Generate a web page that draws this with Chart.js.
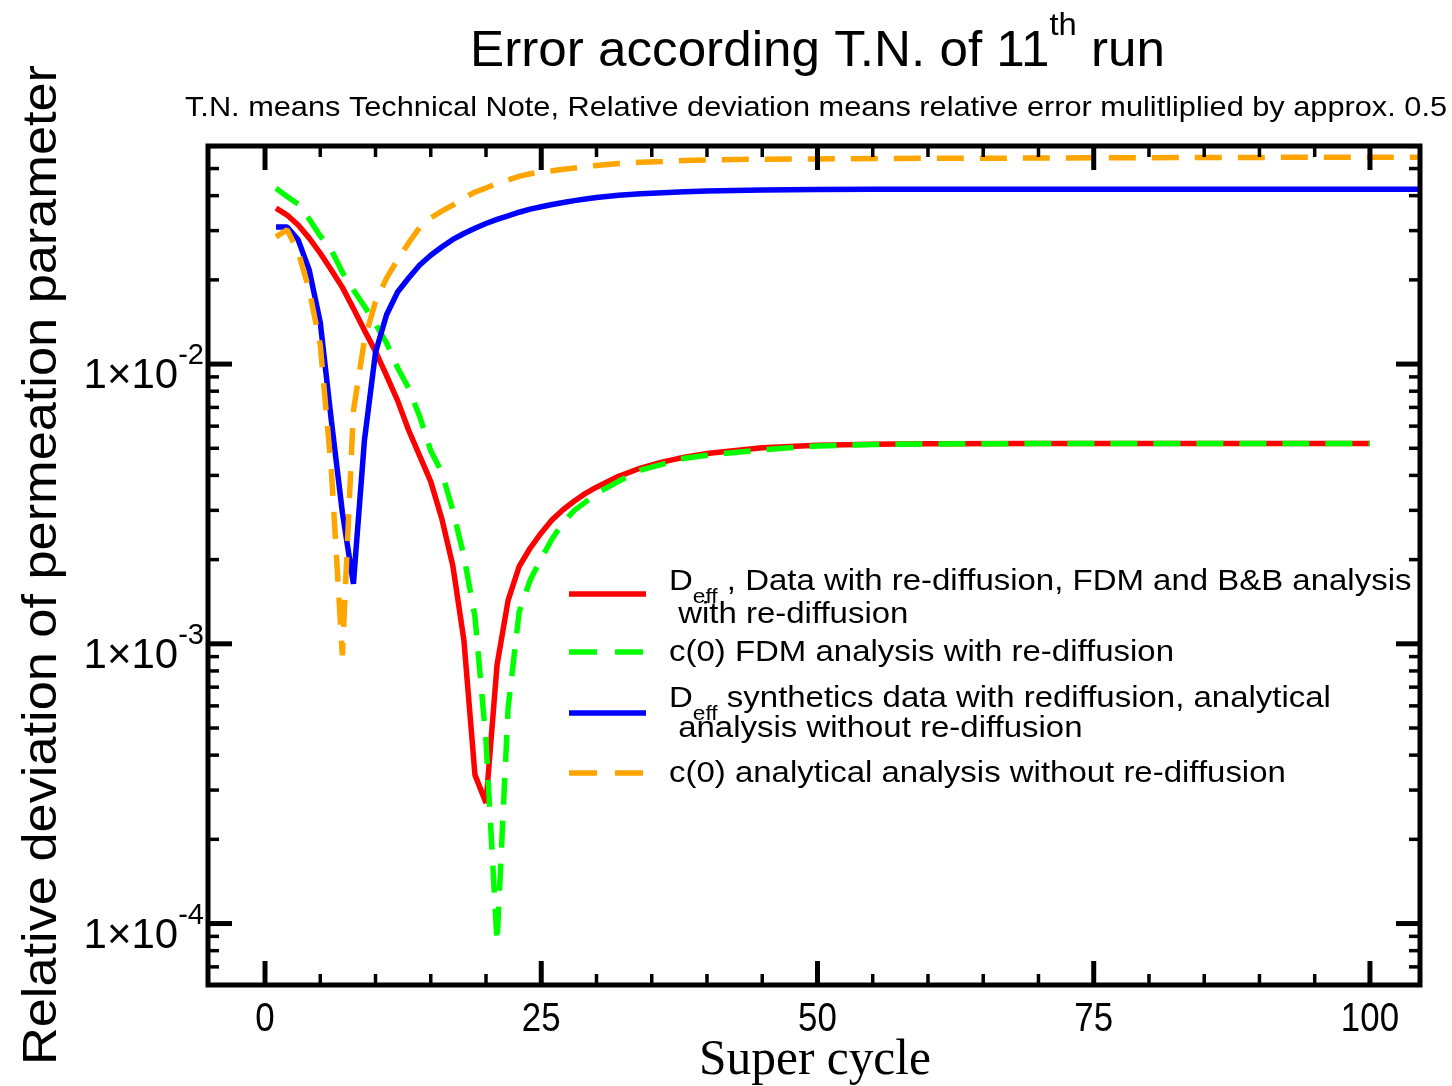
<!DOCTYPE html>
<html>
<head>
<meta charset="utf-8">
<script src="https://cdn.jsdelivr.net/npm/chart.js@4.4.1/dist/chart.umd.min.js"></script>
<style>
html,body{margin:0;padding:0;background:#fff;}
canvas{display:block;}
</style>
</head>
<body>
<canvas id="c" width="1452" height="1086"></canvas>
<script>
// ---------------- data ----------------
const cycles = [1,2,3,4,5,6,7,8,9,10,11,12,13,14,15,16,17,18,19,20,21,22,23,24,25,26,27,28,29,30,32,34,36,38,40,45,50,55,60,70,80,90,100];
const cyclesExt = [1,2,3,4,5,6,7,8,9,10,11,12,13,14,15,16,17,18,19,20,21,22,23,24,25,26,27,28,29,30,32,34,36,38,40,45,50,55,60,70,80,90,100,105];

const deffFdm = [0.0361,0.0341,0.0314,0.0282,0.0249,0.0217,0.0188,0.0158,0.0132,0.0111,0.0091,0.0074,0.0058,0.0047,0.0038,0.0028,0.0019,0.00103,0.00034,0.00027,0.00084,0.00143,0.00189,0.0022,0.00249,0.00278,0.00302,0.00324,0.00345,0.00363,0.00397,0.00425,0.00447,0.00465,0.00479,0.00502,0.00513,0.00517,0.00519,0.0052,0.0052,0.0052,0.0052];
const c0Fdm = [0.0425,0.0397,0.0373,0.033,0.0287,0.0256,0.0213,0.0184,0.0161,0.0139,0.0119,0.0097,0.0082,0.0065,0.0049,0.0041,0.003,0.00206,0.00125,0.00045,0.0000855,0.00059,0.0013,0.00169,0.00202,0.00238,0.00272,0.003,0.00321,0.00345,0.00381,0.00418,0.00439,0.00461,0.00472,0.00494,0.0051,0.00516,0.00518,0.0052,0.0052,0.0052,0.0052];
const deffAnalytical = [0.0309,0.0309,0.0278,0.0217,0.0141,0.0063,0.00295,0.00164,0.00535,0.011,0.015,0.0181,0.0203,0.0226,0.0245,0.0262,0.0279,0.0293,0.0306,0.0318,0.0329,0.0339,0.0349,0.0358,0.0365,0.0372,0.0378,0.0384,0.0389,0.0394,0.0401,0.0406,0.041,0.0413,0.0416,0.0419,0.0421,0.0422,0.0422,0.0422,0.0422,0.0422,0.0422,0.0422];
const c0Analytical = [0.0285,0.0302,0.0252,0.0184,0.0117,0.0042,0.00091,0.0068,0.0122,0.0167,0.0203,0.0236,0.0271,0.0308,0.0333,0.0352,0.037,0.0393,0.0412,0.0426,0.0443,0.0455,0.0469,0.0479,0.0487,0.0491,0.0497,0.0502,0.0508,0.0513,0.0521,0.0527,0.053,0.0534,0.0537,0.054,0.0541,0.0543,0.0544,0.0545,0.0547,0.0548,0.0549,0.0549];

const seriesNames = [
  'D_eff, Data with re-diffusion, FDM and B&B analysis with re-diffusion',
  'c(0) FDM analysis with re-diffusion',
  'D_eff synthetics data with rediffusion, analytical analysis without re-diffusion',
  'c(0) analytical analysis without re-diffusion'
];
const seriesColors = ['#ff0000', '#00ff00', '#0000ff', '#ffa500'];

const xTickValues = [0, 25, 50, 75, 100];
const xTickLabels = ['0', '25', '50', '75', '100'];
const yTickValues = [1e-4, 1e-3, 1e-2];
const yTickExponents = ['-4', '-3', '-2'];

const titleMain = 'Error according T.N. of 11';
const titleSup = 'th';
const titleEnd = ' run';
const subtitle = 'T.N. means Technical Note, Relative deviation means relative error mulitliplied by approx. 0.5';
const yTitle = 'Relative deviation of permeation parameter';
const xTitle = 'Super cycle';

// legend rows: [base, subscript, rest] per text line
const legendRows = [
  {color: 0, dash: false, lines: [['D', 'eff', ' , Data with re-diffusion, FDM and B&B analysis'], ['', '', ' with re-diffusion']]},
  {color: 1, dash: true,  lines: [['c(0) FDM analysis with re-diffusion', '', '']]},
  {color: 2, dash: false, lines: [['D', 'eff', ' synthetics data with rediffusion, analytical'], ['', '', ' analysis without re-diffusion']]},
  {color: 3, dash: true,  lines: [['c(0) analytical analysis without re-diffusion', '', '']]}
];

// ---------------- helpers ----------------
const SANS = '"Liberation Sans", Arial, Helvetica, sans-serif';
const SERIF = '"Liberation Serif", "Times New Roman", serif';

function measureParts(ctx, parts) {
  let w = 0;
  for (const p of parts) { ctx.font = p.size + 'px ' + (p.family || SANS); w += ctx.measureText(p.text).width; }
  return w;
}
function drawParts(ctx, x, y, parts, sx) {
  ctx.save();
  ctx.translate(x, y);
  ctx.scale(sx, 1);
  ctx.textAlign = 'left';
  ctx.textBaseline = 'alphabetic';
  let cx = 0;
  for (const p of parts) {
    ctx.font = p.size + 'px ' + (p.family || SANS);
    ctx.fillText(p.text, cx, p.dy || 0);
    cx += ctx.measureText(p.text).width;
  }
  ctx.restore();
  return cx * sx;
}
function seg(ctx, x1, y1, x2, y2) { ctx.beginPath(); ctx.moveTo(x1, y1); ctx.lineTo(x2, y2); ctx.stroke(); }

const decorPlugin = {
  id: 'decor',
  afterDraw(chart) {
    const ctx = chart.ctx;
    const a = chart.chartArea;
    const xs = chart.scales.x, ys = chart.scales.y;
    ctx.save();
    ctx.fillStyle = '#000';
    ctx.strokeStyle = '#000';
    ctx.lineCap = 'butt';

    // frame
    ctx.lineWidth = 5;
    ctx.strokeRect(a.left, a.top, a.right - a.left, a.bottom - a.top);

    // x ticks (inward, bottom and top)
    for (let v = 0; v <= 100; v += 5) {
      const px = xs.getPixelForValue(v);
      const major = xTickValues.includes(v);
      const len = major ? 24 : 11;
      ctx.lineWidth = major ? 5 : 3.5;
      seg(ctx, px, a.bottom, px, a.bottom - len);
      seg(ctx, px, a.top, px, a.top + len);
    }
    // y ticks (inward, left and right)
    for (let e = -5; e <= -1; e++) {
      for (let k = 1; k <= 9; k++) {
        const v = k * Math.pow(10, e);
        if (v < ys.min || v > ys.max) continue;
        const py = ys.getPixelForValue(v);
        const major = k === 1;
        const len = major ? 24 : 11;
        ctx.lineWidth = major ? 5 : 3.5;
        seg(ctx, a.left, py, a.left + len, py);
        seg(ctx, a.right, py, a.right - len, py);
      }
    }

    // x tick labels
    xTickValues.forEach((v, i) => {
      const px = xs.getPixelForValue(v);
      const parts = [{text: xTickLabels[i], size: 41}];
      const sx = 0.85;
      const w = measureParts(ctx, parts) * sx;
      drawParts(ctx, px - w / 2, a.bottom + 46, parts, sx);
    });

    // y tick labels 1x10^n
    yTickValues.forEach((v, i) => {
      const py = ys.getPixelForValue(v);
      const parts = [{text: '1\u00d710', size: 42}, {text: yTickExponents[i], size: 29, dy: -24}];
      const w = measureParts(ctx, parts);
      drawParts(ctx, a.left - 4 - w, py + 24, parts, 1);
    });

    // title
    {
      const parts = [{text: titleMain, size: 50}, {text: titleSup, size: 32, dy: -31}, {text: titleEnd, size: 50}];
      const w = measureParts(ctx, parts);
      const sx = 695 / w;
      drawParts(ctx, 817.5 - 695 / 2, 66, parts, sx);
    }
    // subtitle
    {
      const parts = [{text: subtitle, size: 28}];
      const w = measureParts(ctx, parts);
      const sx = 1262 / w;
      drawParts(ctx, 185, 116, parts, sx);
    }
    // x title
    {
      const parts = [{text: xTitle, size: 50, family: SERIF}];
      const w = measureParts(ctx, parts);
      const sx = 232 / w;
      drawParts(ctx, 815 - 116, 1074, parts, sx);
    }
    // y title (rotated)
    {
      const parts = [{text: yTitle, size: 48}];
      const w = measureParts(ctx, parts);
      const sx = 1000 / w;
      ctx.save();
      ctx.translate(56, 565);
      ctx.rotate(-Math.PI / 2);
      drawParts(ctx, -500, 0, parts, sx);
      ctx.restore();
    }

    // legend
    {
      const lineYs = [594, 652, 713, 773];
      const textBaselines = [[590, 623], [661], [707, 737], [782]];
      const ref = measureParts(ctx, [{text: 'c(0) FDM analysis with re-diffusion', size: 29}]);
      const sx = 505 / ref;
      legendRows.forEach((row, r) => {
        ctx.save();
        ctx.strokeStyle = seriesColors[row.color];
        ctx.lineWidth = 5.5;
        ctx.setLineDash(row.dash ? [28, 18] : []);
        seg(ctx, 569, lineYs[r], 646, lineYs[r]);
        ctx.restore();
        row.lines.forEach((ln, j) => {
          const parts = [];
          if (ln[0]) parts.push({text: ln[0], size: 29});
          if (ln[1]) parts.push({text: ln[1], size: 20, dy: 13});
          if (ln[2]) parts.push({text: ln[2], size: 29});
          drawParts(ctx, 669, textBaselines[r][j], parts, sx);
        });
      });
    }
    ctx.restore();
  }
};

const mk = (xsArr, ysArr) => xsArr.map((x, i) => ({x: x, y: ysArr[i]}));

new Chart(document.getElementById('c'), {
  type: 'line',
  data: {
    datasets: [
      {label: seriesNames[0], data: mk(cycles, deffFdm), borderColor: seriesColors[0], borderDash: [], order: 4},
      {label: seriesNames[1], data: mk(cycles, c0Fdm), borderColor: seriesColors[1], borderDash: [27, 16], order: 3},
      {label: seriesNames[2], data: mk(cyclesExt, deffAnalytical), borderColor: seriesColors[2], borderDash: [], order: 2},
      {label: seriesNames[3], data: mk(cyclesExt, c0Analytical), borderColor: seriesColors[3], borderDash: [27, 16], order: 1}
    ]
  },
  options: {
    responsive: false,
    animation: false,
    devicePixelRatio: 1,
    layout: {padding: {left: 208, right: 32, top: 146, bottom: 101}},
    plugins: {legend: {display: false}, title: {display: false}, tooltip: {enabled: false}},
    elements: {
      point: {radius: 0, hoverRadius: 0},
      line: {tension: 0, borderWidth: 5.5, fill: false, borderCapStyle: 'butt', borderJoinStyle: 'bevel'}
    },
    scales: {
      x: {type: 'linear', min: -5.16, max: 104.53, display: false},
      y: {type: 'logarithmic', min: 6.03e-5, max: 0.0602, display: false}
    }
  },
  plugins: [decorPlugin]
});
</script>
</body>
</html>
